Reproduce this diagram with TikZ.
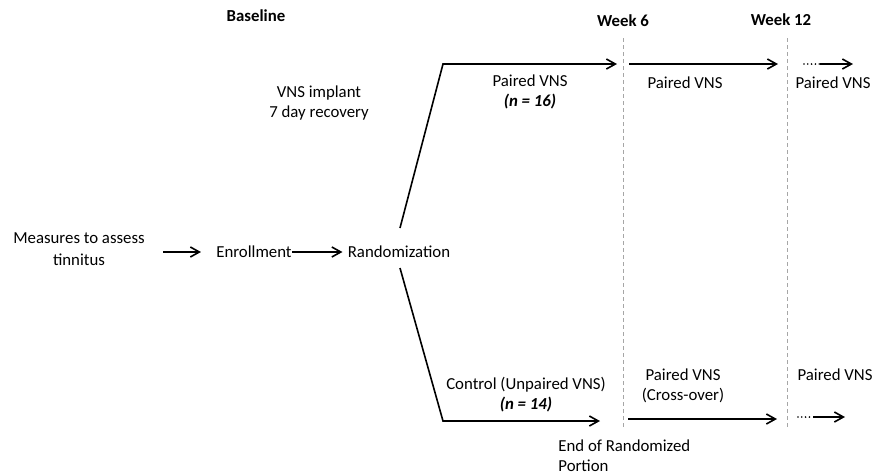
\documentclass[tikz,border=0pt]{standalone}
\usepackage{fontspec}
\setmainfont{Carlito}
\usetikzlibrary{arrows.meta, positioning}

\begin{document}
\begin{tikzpicture}[x=0.5pt,y=-0.5pt,
    every node/.style={font=\fontsize{8.4}{10}\selectfont, inner sep=0pt, align=center},
    >={Straight Barb[length=4.5pt,width=5pt]},
    flow/.style={line width=0.8pt},
    weekline/.style={gray!70, line width=0.5pt, dash pattern=on 2pt off 1.5pt},
    dots/.style={line width=0.9pt, line cap=round, dash pattern=on 0pt off 1.9pt},
    heading/.style={font=\fontsize{8.4}{10}\selectfont\bfseries}]
    \useasboundingbox (0,0) rectangle (874,473);

    \node (measures) at (79,249) {Measures to assess\\[1pt]tinnitus};
    \node (enroll) at (254,252) {Enrollment};
    \node (random) at (399,252) {Randomization};

    \node[heading] (baseline) at (256,16) {Baseline};
    \node[heading] (week6) at (623,21) {Week 6};
    \node[heading] (week12) at (781,20) {Week 12};

    \node (implant) at (319,103) {VNS implant\\7 day recovery};
    \node (pairedup) at (530,92) {Paired VNS\\\textbf{\textit{(n = 16)}}};
    \node (pairedmid) at (685,83) {Paired VNS};
    \node (pairedright) at (833,83) {Paired VNS};
    \node (control) at (526,395) {Control (Unpaired VNS)\\\textbf{\textit{(n = 14)}}};
    \node (crossover) at (683,386) {Paired VNS\\(Cross-over)};
    \node (pairedlow) at (835,375) {Paired VNS};
    \node[align=left, anchor=west] (endrand) at (558,456) {End of Randomized\\Portion};

    \coordinate (upsplit) at (400,228);
    \coordinate (upcorner) at (443,64);
    \coordinate (upend) at (617,64);
    \coordinate (lowsplit) at (400,268);
    \coordinate (lowcorner) at (443,421);
    \coordinate (lowend) at (600,421);

    \coordinate (w6top) at (623,38);
    \coordinate (w6bot) at (623,427);
    \coordinate (w12top) at (787,38);
    \coordinate (w12bot) at (787,427);

    \coordinate (upmidstart) at (629,64);
    \coordinate (upmidend) at (778,64);
    \coordinate (updotsstart) at (804,64);
    \coordinate (updotsend) at (820,64);
    \coordinate (uprightend) at (853,64);
    \coordinate (lowmidstart) at (628,419);
    \coordinate (lowmidend) at (777,419);
    \coordinate (lowdotsstart) at (798,417);
    \coordinate (lowdotsend) at (813,417);
    \coordinate (lowrightend) at (845,417);

    \draw[weekline] (w6top) -- (w6bot);
    \draw[weekline] (w12top) -- (w12bot);

    \draw[flow,->,shorten <=9pt,shorten >=7.5pt] (measures.east |- enroll.west) -- (enroll.west);
    \draw[flow,->,shorten >=2.5pt] (enroll) -- (random);
    \draw[flow,->] (upsplit) -- (upcorner) -- (upend);
    \draw[flow,->] (lowsplit) -- (lowcorner) -- (lowend);

    \draw[flow,->] (upmidstart) -- (upmidend);
    \draw[dots] (updotsstart) -- (updotsend);
    \draw[flow,->] (updotsend) -- (uprightend);
    \draw[flow,->] (lowmidstart) -- (lowmidend);
    \draw[dots] (lowdotsstart) -- (lowdotsend);
    \draw[flow,->] (lowdotsend) -- (lowrightend);
\end{tikzpicture}
\end{document}
